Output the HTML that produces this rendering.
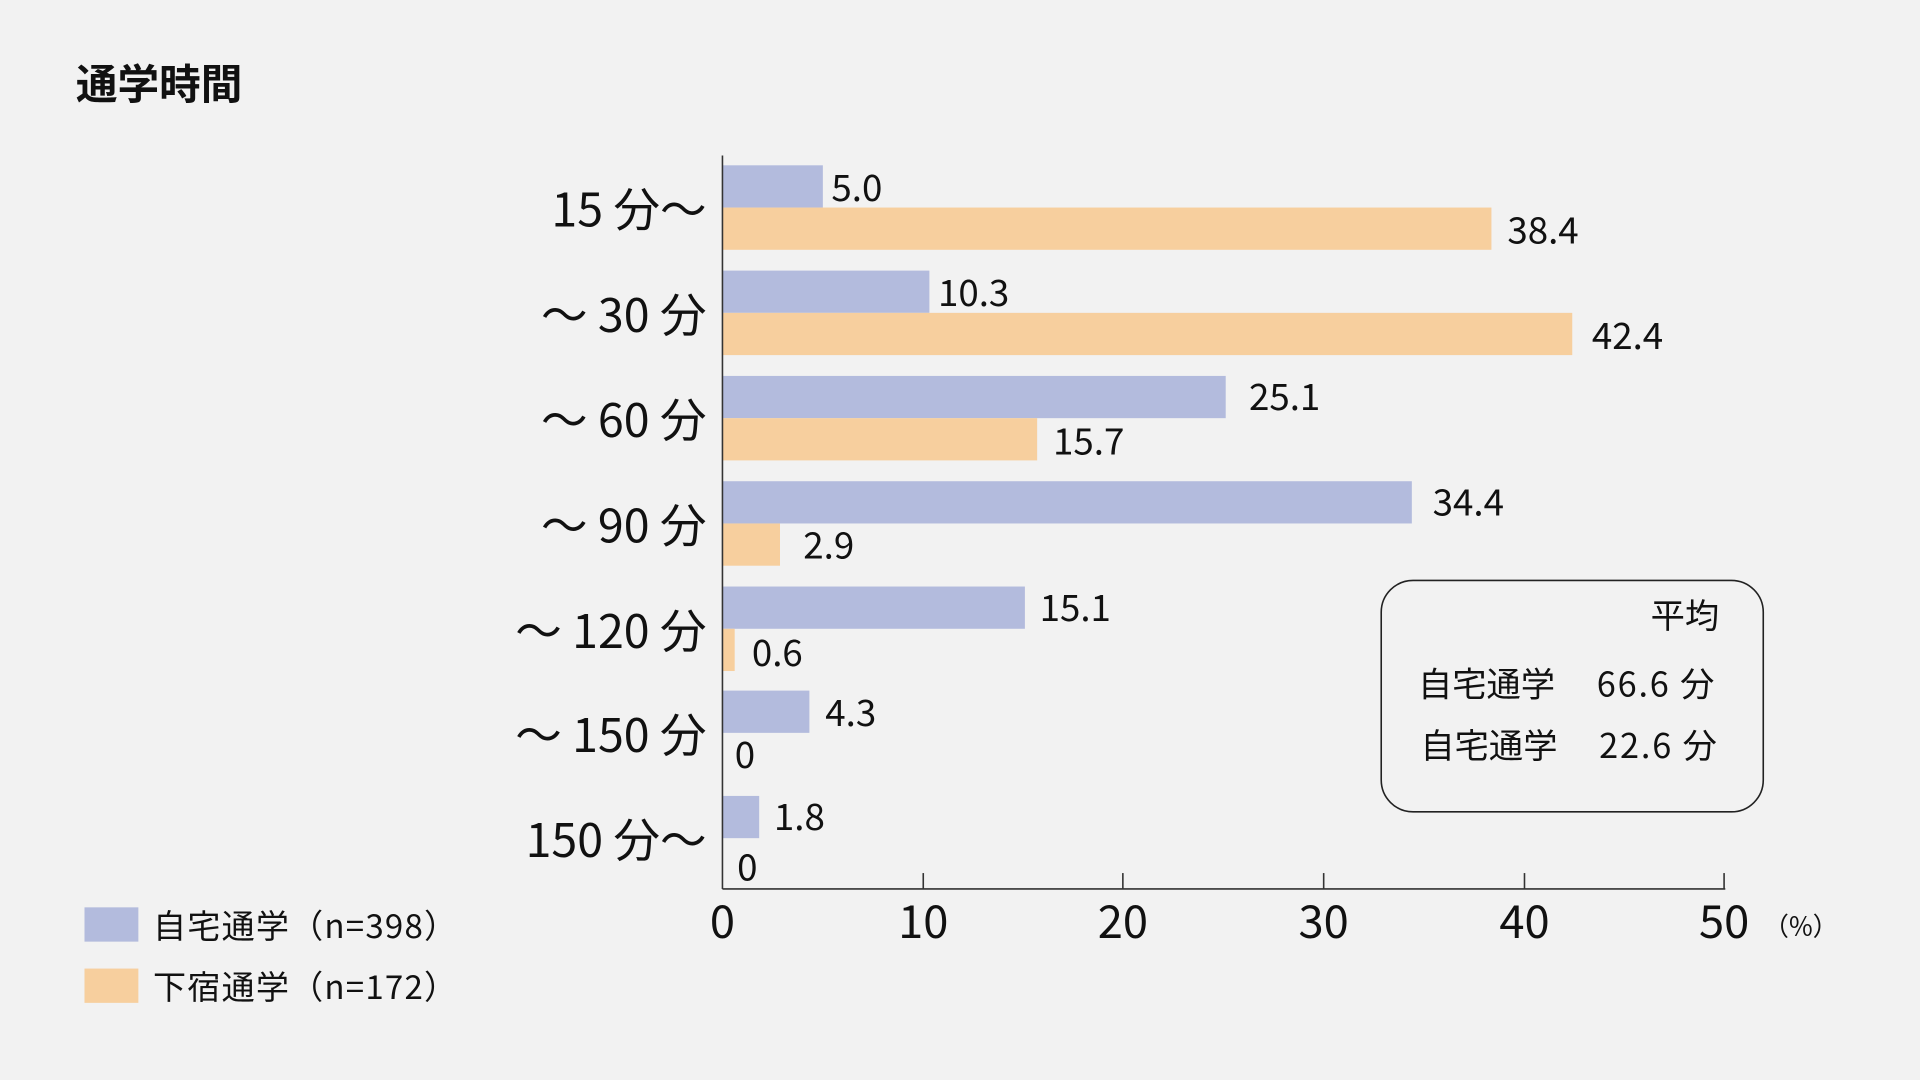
<!DOCTYPE html>
<html><head><meta charset="utf-8"><style>
html,body{margin:0;padding:0;background:#f2f2f2;}
svg{display:block}
text{font-family:"Noto Sans CJK JP","Liberation Sans",sans-serif;fill:#111;}
</style></head><body>
<svg width="1920" height="1080" viewBox="0 0 1568 882" xmlns="http://www.w3.org/2000/svg">
<rect width="1568" height="882" fill="#f2f2f2"/>
<text x="62" y="81" font-size="34" font-weight="bold">通学時間</text>
<g fill="#b3bbdd">
<rect x="590" y="135" width="82" height="34.5"/>
<rect x="590" y="221" width="169" height="34.5"/>
<rect x="590" y="307" width="411" height="34.5"/>
<rect x="590" y="393" width="563" height="34.5"/>
<rect x="590" y="479" width="247" height="34.5"/>
<rect x="590" y="564" width="71" height="34.5"/>
<rect x="590" y="650" width="30" height="34.5"/>
</g>
<g fill="#f7cf9e">
<rect x="590" y="169.5" width="628" height="34.5"/>
<rect x="590" y="255.5" width="694" height="34.5"/>
<rect x="590" y="341.5" width="257" height="34.5"/>
<rect x="590" y="427.5" width="47" height="34.5"/>
<rect x="590" y="513.5" width="10" height="34.5"/>
</g>
<g stroke="#333" stroke-width="1.3" fill="none">
<line x1="590" y1="127" x2="590" y2="726"/>
<line x1="590" y1="726" x2="1409" y2="726"/>
<line x1="754" y1="713" x2="754" y2="726"/>
<line x1="917" y1="713" x2="917" y2="726"/>
<line x1="1081" y1="713" x2="1081" y2="726"/>
<line x1="1245" y1="713" x2="1245" y2="726"/>
<line x1="1408" y1="713" x2="1408" y2="726"/>
<rect x="1128" y="474" width="312" height="189" rx="26" stroke="#222"/>
</g>
<g font-size="30">
<text x="679" y="164">5.0</text>
<text x="1231" y="199">38.4</text>
<text x="766" y="250">10.3</text>
<text x="1300" y="285">42.4</text>
<text x="1020" y="335">25.1</text>
<text x="860" y="371">15.7</text>
<text x="1170" y="421">34.4</text>
<text x="656" y="456">2.9</text>
<text x="849" y="507">15.1</text>
<text x="614" y="544">0.6</text>
<text x="674" y="593">4.3</text>
<text x="600" y="627">0</text>
<text x="632" y="678">1.8</text>
<text x="602" y="719">0</text>
</g>
<g font-size="38" text-anchor="end">
<text x="577" y="185">15 分〜</text>
<text x="577" y="271">〜 30 分</text>
<text x="577" y="357">〜 60 分</text>
<text x="577" y="443">〜 90 分</text>
<text x="577" y="529">〜 120 分</text>
<text x="577" y="614">〜 150 分</text>
<text x="577" y="700">150 分〜</text>
</g>
<g font-size="37" text-anchor="middle">
<text x="590" y="766">0</text>
<text x="754" y="766">10</text>
<text x="917" y="766">20</text>
<text x="1081" y="766">30</text>
<text x="1245" y="766">40</text>
<text x="1408" y="766">50</text>
</g>
<text x="1440" y="764" font-size="21">（%）</text>
<g font-size="28">
<text x="1348" y="513">平均</text>
<text x="1158" y="569">自宅通学</text>
<text x="1304" y="569" letter-spacing="1.5">66.6 分</text>
<text x="1160" y="619">自宅通学</text>
<text x="1306" y="619" letter-spacing="1.5">22.6 分</text>
</g>
<rect x="69" y="741" width="44" height="28" fill="#b3bbdd"/>
<rect x="69" y="791" width="44" height="28" fill="#f7cf9e"/>
<g font-size="27" letter-spacing="1">
<text x="125" y="766">自宅通学（n=398）</text>
<text x="125" y="816">下宿通学（n=172）</text>
</g>
</svg>
</body></html>
